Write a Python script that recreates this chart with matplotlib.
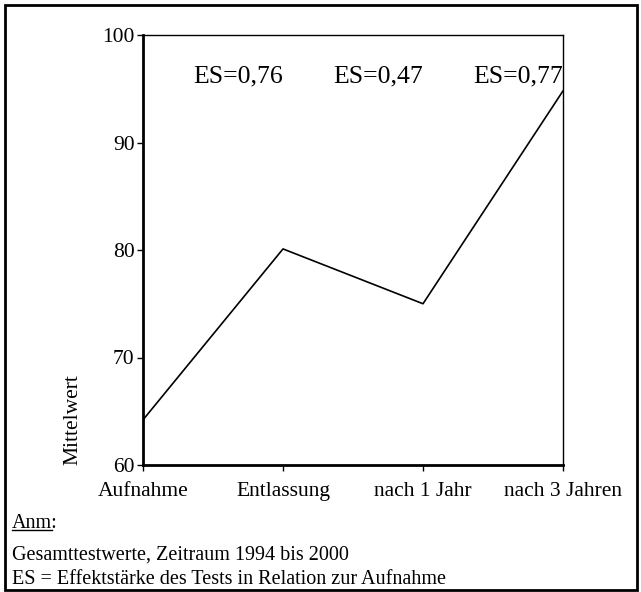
import matplotlib
matplotlib.use("Agg")
import matplotlib.pyplot as plt
from matplotlib.patches import Rectangle
from matplotlib.lines import Line2D

# Daten
kategorien = ["Aufnahme", "Entlassung", "nach 1 Jahr", "nach 3 Jahren"]
mittelwerte = [64.2, 80.1, 75.0, 94.8]
es_labels = ["ES=0,76", "ES=0,47", "ES=0,77"]
es_pos = [1, 2, 3]
y_ticks = [60, 70, 80, 90, 100]

plt.rcParams['font.family'] = ['Liberation Serif', 'DejaVu Serif']

fig = plt.figure(figsize=(6.41, 5.92), dpi=100)
ax = fig.add_axes([143/641, 127/592, 420/641, 430/592])

ax.plot(range(len(kategorien)), mittelwerte, color='black', linewidth=1.2)
ax.set_xlim(0, len(kategorien) - 1)
ax.set_ylim(60, 100)
ax.set_yticks(y_ticks)
ax.set_xticks(range(len(kategorien)))
ax.set_xticklabels(kategorien, fontsize=15.5)
ax.tick_params(axis='y', labelsize=15.5, length=4, width=1, direction='out', pad=2)
ax.tick_params(axis='x', length=4, width=1, direction='out', pad=8)

ax.spines['left'].set_linewidth(2)
ax.spines['bottom'].set_linewidth(2)
ax.spines['top'].set_linewidth(1)
ax.spines['right'].set_linewidth(1)

for x, s in zip(es_pos, es_labels):
    ax.text(x, 96.1, s, ha='right', va='center', fontsize=18.5)

ax.set_ylabel("Mittelwert", fontsize=15.5, loc='bottom', labelpad=14)

# Anmerkung
fs = 14.5
fig.text(12/641, 1 - 523/592, "Anm:", fontsize=fs, va='center', ha='left')
fig.text(12/641, 1 - 555/592, "Gesamttestwerte, Zeitraum 1994 bis 2000", fontsize=fs, va='center', ha='left')
fig.text(12/641, 1 - 580/592, "ES = Effektstärke des Tests in Relation zur Aufnahme", fontsize=fs, va='center', ha='left')

# Unterstreichung "Anm"
fig.canvas.draw()
r = fig.canvas.get_renderer()
bb = fig.text(12/641, 1 - 523/592, "Anm", fontsize=fs, va='center', ha='left', alpha=0).get_window_extent(r)
y_line = bb.y0 + 3
fig.add_artist(Line2D([bb.x0/641, bb.x1/641], [y_line/592, y_line/592], color='black', linewidth=1))

# Rahmen
fig.add_artist(Rectangle((5/641, 2/592), 632/641, 585/592, transform=fig.transFigure,
                         fill=False, edgecolor='black', linewidth=2))

fig.savefig("out.png", dpi=100)
